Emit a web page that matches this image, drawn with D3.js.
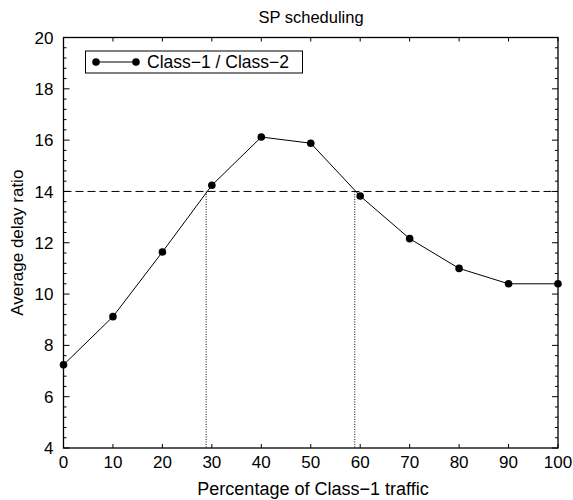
<!DOCTYPE html>
<html>
<head>
<meta charset="utf-8">
<script src="https://cdn.jsdelivr.net/npm/d3@7"></script>
<style>
  body { margin: 0; background: #fff; }
  text { font-family: "Liberation Sans", Arial, sans-serif; fill: #000; }
</style>
</head>
<body>
<script>
const width = 573;
const height = 500;
const margin = ({top: 37.5, right: 15, bottom: 52, left: 63.5});

const traffic = [0, 10, 20, 30, 40, 50, 60, 70, 80, 90, 100];
const delayRatio = [7.24, 9.12, 11.64, 14.24, 16.12, 15.88, 13.82, 12.16, 11.0, 10.4, 10.4];
const xTicks = [0, 10, 20, 30, 40, 50, 60, 70, 80, 90, 100];
const yTicks = [4, 6, 8, 10, 12, 14, 16, 18, 20];
const threshold = 14;
const crossings = [28.85, 58.9];

const svg = d3.select("body")
  .append("svg")
  .attr("width", width)
  .attr("height", height);

const x = d3.scaleLinear()
  .domain([0, 100])
  .range([margin.left, width - margin.right]);

const y = d3.scaleLinear()
  .domain([4, 20])
  .range([height - margin.bottom, margin.top]);

// ticks, drawn inward on all four sides
const minorY = d3.range(4, 20.001, 0.4).filter(v => Math.abs(v / 2 - Math.round(v / 2)) > 0.01);
const tickG = svg.append("g").attr("stroke", "#000").attr("stroke-width", 1);
yTicks.forEach(v => {
  tickG.append("line").attr("x1", x(0)).attr("x2", x(0) + 6).attr("y1", y(v)).attr("y2", y(v));
  tickG.append("line").attr("x1", x(100)).attr("x2", x(100) - 6).attr("y1", y(v)).attr("y2", y(v));
});
minorY.forEach(v => {
  tickG.append("line").attr("x1", x(0)).attr("x2", x(0) + 3).attr("y1", y(v)).attr("y2", y(v));
  tickG.append("line").attr("x1", x(100)).attr("x2", x(100) - 3).attr("y1", y(v)).attr("y2", y(v));
});
xTicks.forEach(v => {
  tickG.append("line").attr("x1", x(v)).attr("x2", x(v)).attr("y1", y(4)).attr("y2", y(4) - 4);
  tickG.append("line").attr("x1", x(v)).attr("x2", x(v)).attr("y1", y(20)).attr("y2", y(20) + 4);
});

// frame
svg.append("rect")
  .attr("x", x(0)).attr("y", y(20))
  .attr("width", x(100) - x(0)).attr("height", y(4) - y(20))
  .attr("fill", "none").attr("stroke", "#000").attr("stroke-width", 1.3);

// tick labels
svg.append("g").selectAll("text")
  .data(yTicks)
  .join("text")
  .attr("x", x(0) - 10)
  .attr("y", d => y(d))
  .attr("dy", "0.36em")
  .attr("text-anchor", "end")
  .attr("font-size", 17)
  .text(d => d);

svg.append("g").selectAll("text")
  .data(xTicks)
  .join("text")
  .attr("x", d => x(d))
  .attr("y", 468)
  .attr("text-anchor", "middle")
  .attr("font-size", 17)
  .text(d => d);

// reference lines
svg.append("line")
  .attr("x1", x(0)).attr("x2", x(100))
  .attr("y1", y(threshold)).attr("y2", y(threshold))
  .attr("stroke", "#000").attr("stroke-dasharray", "8,4");

svg.append("g").selectAll("line")
  .data(crossings)
  .join("line")
  .attr("x1", d => x(d)).attr("x2", d => x(d))
  .attr("y1", y(threshold)).attr("y2", y(4))
  .attr("stroke", "#000").attr("stroke-dasharray", "1,1.5");

// series
const pts = traffic.map((t, i) => [t, delayRatio[i]]);
svg.append("path")
  .datum(pts)
  .attr("fill", "none")
  .attr("stroke", "#000")
  .attr("stroke-width", 1)
  .attr("d", d3.line().x(d => x(d[0])).y(d => y(d[1])));

svg.append("g").selectAll("circle")
  .data(pts)
  .join("circle")
  .attr("cx", d => x(d[0]))
  .attr("cy", d => y(d[1]))
  .attr("r", 3.8)
  .attr("fill", "#000");

// legend
const lg = svg.append("g");
lg.append("rect")
  .attr("x", 85.5).attr("y", 51)
  .attr("width", 217).attr("height", 22)
  .attr("fill", "#fff").attr("stroke", "#000");
lg.append("line")
  .attr("x1", 96).attr("x2", 136).attr("y1", 62).attr("y2", 62)
  .attr("stroke", "#000");
[96, 136].forEach(cx => lg.append("circle").attr("cx", cx).attr("cy", 62).attr("r", 3.8).attr("fill", "#000"));
lg.append("text")
  .attr("x", 147).attr("y", 62).attr("dy", "0.36em")
  .attr("font-size", 17.5)
  .text("Class\u22121 / Class\u22122");

// titles
svg.append("text")
  .attr("x", 311).attr("y", 23)
  .attr("text-anchor", "middle")
  .attr("font-size", 16.5)
  .text("SP scheduling");

svg.append("text")
  .attr("x", 313).attr("y", 495)
  .attr("text-anchor", "middle")
  .attr("font-size", 18)
  .text("Percentage of Class\u22121 traffic");

svg.append("text")
  .attr("transform", `translate(23,${(y(4) + y(20)) / 2}) rotate(-90)`)
  .attr("text-anchor", "middle")
  .attr("font-size", 17)
  .text("Average delay ratio");
</script>
</body>
</html>
